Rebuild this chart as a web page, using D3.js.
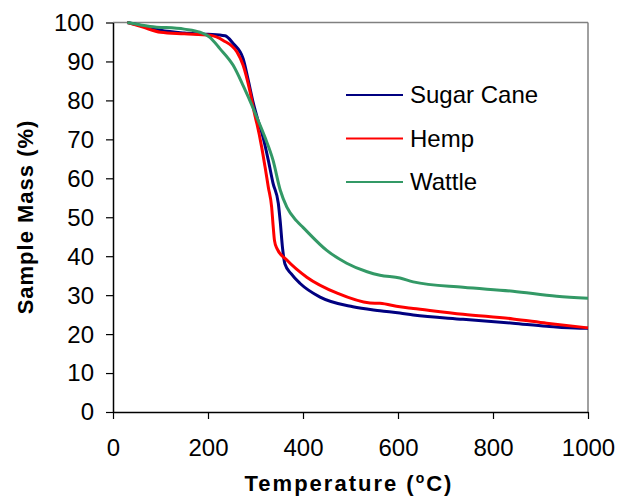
<!DOCTYPE html>
<html>
<head>
<meta charset="utf-8">
<script src="https://cdn.jsdelivr.net/npm/d3@7"></script>
<style>
  body { margin: 0; background: #fff; }
  text { font-family: "Liberation Sans", Arial, sans-serif; fill: #000; }
</style>
</head>
<body>
<div id="viz"></div>
<script>
// TGA curves: temperature (C) and sample mass (%)
const caneTemp = [30, 60, 100, 150, 200, 236, 253, 274, 284, 295, 305, 316, 327, 337, 348, 352, 357, 362, 375, 394, 436, 505, 562, 604, 632, 737, 842, 913, 983, 1000];
const caneMass = [100, 99.2, 98, 97.3, 97, 96.6, 94.6, 90.7, 85.6, 79.5, 75, 70.5, 64.6, 58.7, 53.6, 49, 42, 38, 35.5, 33, 29.5, 27, 26, 25.4, 24.9, 23.8, 22.8, 22, 21.5, 21.5];

const hempTemp = [30, 63, 100, 150, 204, 232, 261, 274, 288, 299, 303, 313, 320, 327, 334, 337, 340, 345, 366, 408, 472, 541, 562, 604, 632, 737, 842, 913, 1000];
const hempMass = [100, 98.8, 97.5, 97.1, 96.7, 95.4, 92.4, 89, 82.5, 76, 74, 68, 63, 57.7, 52.6, 48, 44, 42, 39, 34.6, 30.5, 28, 27.9, 27, 26.6, 25.1, 23.9, 22.8, 21.6];

const wattleTemp = [30, 78, 150, 183, 204, 225, 253, 274, 295, 303, 320, 337, 352, 366, 387, 400, 450, 492, 535, 562, 604, 632, 737, 842, 934, 1000];
const wattleMass = [100, 99, 98.3, 97.5, 96.2, 93.3, 89, 83.8, 78, 75.6, 70.5, 64.6, 57, 52.6, 49, 47.4, 41.5, 38.2, 36, 35.1, 34.4, 33.4, 32, 31, 29.7, 29.2];

const seriesNames = ['Sugar Cane', 'Hemp', 'Wattle'];
const seriesColors = ['#000080', '#ff0000', '#339966'];

const xTicks = [0, 200, 400, 600, 800, 1000];
const yTicks = [0, 10, 20, 30, 40, 50, 60, 70, 80, 90, 100];

const series = [
    { name: seriesNames[0], color: seriesColors[0], pts: caneTemp.map((t, i) => [t, caneMass[i]]) },
    { name: seriesNames[1], color: seriesColors[1], pts: hempTemp.map((t, i) => [t, hempMass[i]]) },
    { name: seriesNames[2], color: seriesColors[2], pts: wattleTemp.map((t, i) => [t, wattleMass[i]]) }
];

const W = 618, H = 497;
const margin = { top: 22.5, right: 30, bottom: 85, left: 113 };
const width = W - margin.left - margin.right;
const height = H - margin.top - margin.bottom;

const svg = d3.select('#viz').append('svg')
    .attr('width', W)
    .attr('height', H);

const g = svg.append('g')
    .attr('transform', `translate(${margin.left},${margin.top})`);

const x = d3.scaleLinear().domain([0, 1000]).range([0, width]);
const y = d3.scaleLinear().domain([0, 100]).range([height, 0]);

// gray frame on top and right
g.append('line').attr('x1', 0).attr('x2', width).attr('y1', 0).attr('y2', 0)
    .attr('stroke', '#808080').attr('stroke-width', 1.5);
g.append('line').attr('x1', width).attr('x2', width).attr('y1', 0).attr('y2', height)
    .attr('stroke', '#808080').attr('stroke-width', 1.5);

// curves
const line = d3.line().curve(d3.curveMonotoneX).x(d => x(d[0])).y(d => y(d[1]));
series.forEach(s => {
    g.append('path')
        .datum(s.pts)
        .attr('fill', 'none')
        .attr('stroke', s.color)
        .attr('stroke-width', 3)
        .attr('stroke-linejoin', 'round')
        .attr('d', line);
});

// axes
const xAxis = g.append('g')
    .attr('transform', `translate(0,${height})`)
    .call(d3.axisBottom(x).tickValues(xTicks).tickFormat(d3.format('d')).tickSize(7).tickPadding(20).tickSizeOuter(0));
const yAxis = g.append('g')
    .call(d3.axisLeft(y).tickValues(yTicks).tickFormat(d3.format('d')).tickSize(7).tickPadding(12).tickSizeOuter(0));

[xAxis, yAxis].forEach(ax => {
    ax.select('.domain').attr('stroke', '#000').attr('stroke-width', 1.5);
    ax.selectAll('.tick line').attr('stroke', '#000').attr('stroke-width', 1.2);
    ax.selectAll('.tick text')
        .style('font-family', '"Liberation Sans", Arial, sans-serif')
        .style('font-size', '24px')
        .attr('fill', '#000');
});
yAxis.selectAll('.tick text').attr('dy', '0.33em');

// axis titles
const xTitle = svg.append('text')
    .attr('x', 349)
    .attr('y', 491)
    .attr('text-anchor', 'middle')
    .style('font-size', '22px')
    .style('font-weight', 'bold')
    .style('letter-spacing', '2px');
xTitle.append('tspan').text('Temperature (');
xTitle.append('tspan').text('o').attr('dy', -8).style('font-size', '14px');
xTitle.append('tspan').text('C)').attr('dy', 8);

svg.append('text')
    .attr('transform', 'translate(33,217) rotate(-90)')
    .attr('text-anchor', 'middle')
    .style('font-size', '22px')
    .style('font-weight', 'bold')
    .style('letter-spacing', '1px')
    .text('Sample Mass (%)');

// legend
const legend = svg.append('g').attr('transform', 'translate(346,95)');
series.forEach((s, i) => {
    const row = legend.append('g').attr('transform', `translate(0,${i * 43.5})`);
    row.append('line')
        .attr('x1', 0).attr('x2', 57).attr('y1', 0).attr('y2', 0)
        .attr('stroke', s.color).attr('stroke-width', 2);
    row.append('text')
        .attr('x', 64).attr('y', 8)
        .style('font-size', '24px')
        .text(s.name);
});
</script>
</body>
</html>
